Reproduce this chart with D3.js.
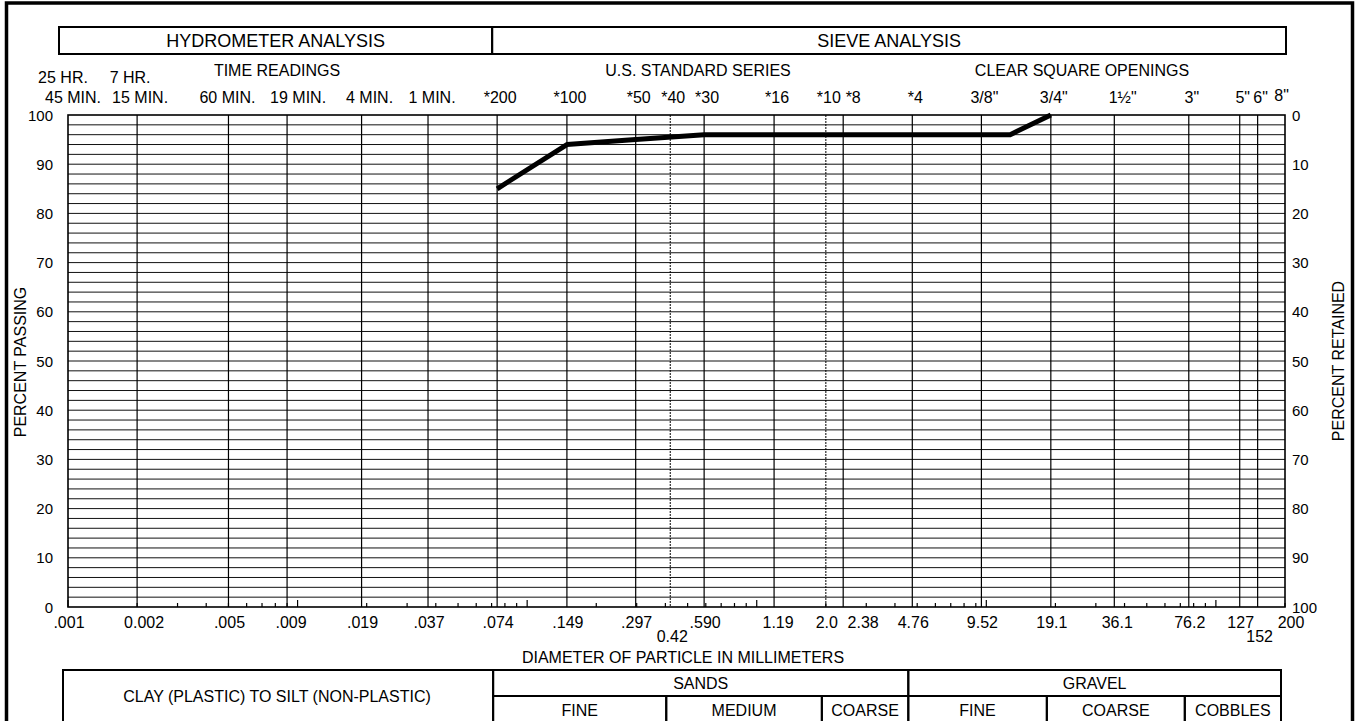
<!DOCTYPE html>
<html>
<head>
<meta charset="utf-8">
<script src="https://cdn.jsdelivr.net/npm/d3@7"></script>
<style>
  body { margin: 0; background: #fff; }
  svg text { font-family: "Liberation Sans", Arial, sans-serif; fill: #000; }
</style>
</head>
<body>
<svg id="d3" width="1359" height="721"></svg>
<script>
// gradation curve (diameter mm, percent passing)
var sampleSize = [0.074, 0.149, 0.297, 0.59, 2.0, 4.76, 9.52, 12.7, 19.1];
var samplePass = [85, 94, 95, 96, 96, 96, 96, 96, 100];

// vertical rulings and the numbers printed under them
var mmSize = [0.002, 0.005, 0.009, 0.019, 0.037, 0.074, 0.149, 0.297, 0.59, 1.19, 2.38, 4.76, 9.52, 19.1, 36.1, 76.2, 127, 152];
var dottedSize = [0.42, 2.0];
var mmTickSize = [0.001, 0.002, 0.005, 0.009, 0.019, 0.037, 0.074, 0.149, 0.297, 0.59, 1.19, 2.0, 2.38, 4.76, 9.52, 19.1, 36.1, 76.2, 127, 200];
var mmTickLabel = [".001", "0.002", ".005", ".009", ".019", ".037", ".074", ".149", ".297", ".590", "1.19", "2.0", "2.38", "4.76", "9.52", "19.1", "36.1", "76.2", "127", "200"];
var mmLowSize = [0.42, 152];
var mmLowLabel = ["0.42", "152"];

// sieve numbers along the top
var sieveSize = [0.074, 0.149, 0.297, 0.42, 0.59, 1.19, 2.0, 2.38, 4.76, 9.52, 19.1, 38.1, 76.2, 127, 152, 203.2];
var sieveLabel = ["*200", "*100", "*50", "*40", "*30", "*16", "*10", "*8", "*4", "3/8\"", "3/4\"", "1\u00bd\"", "3\"", "5\"", "6\"", "8\""];

// hydrometer time readings
var timeSize = [0.001, 0.002, 0.005, 0.009, 0.019, 0.037];
var timeTop = ["25 HR.", "7 HR.", "", "", "", ""];
var timeLabel = ["45 MIN.", "15 MIN.", "60 MIN.", "19 MIN.", "4 MIN.", "1 MIN."];

var yTicks = [0, 10, 20, 30, 40, 50, 60, 70, 80, 90, 100];

// soil classes under the chart
var soilGroup = ["SANDS", "GRAVEL"];
var soilGroupFrom = [0.074, 4.76];
var soilGroupTo = [4.76, 200];
var soilPart = ["FINE", "MEDIUM", "COARSE", "FINE", "COARSE", "COBBLES"];
var soilPartFrom = [0.074, 0.42, 2.0, 4.76, 19.1, 76.2];
var soilPartTo = [0.42, 2.0, 4.76, 19.1, 76.2, 200];

var svg = d3.select('#d3');
var x = d3.scaleLog().domain([0.001, 200]).range([68, 1285]);
var y = d3.scaleLinear().domain([0, 100]).range([607, 115]);

function label(g, tx, ty, s, size, anchor){
	return g.append('text')
		.attr('x', tx).attr('y', ty)
		.attr('text-anchor', anchor || 'middle')
		.attr('dominant-baseline', 'central')
		.style('font-size', size + 'px')
		.text(s);
}

function box(x1, y1, x2, y2, w){
	svg.append('rect')
		.attr('x', x1).attr('y', y1)
		.attr('width', x2 - x1).attr('height', y2 - y1)
		.attr('fill', 'none').attr('stroke', '#000').attr('stroke-width', w);
}

//outer frame
box(6.5, 3, 1352.5, 800, 3.5);

//header boxes
box(x(0.001) - 9, 27, x(0.074) - 5, 54, 2);
box(x(0.074) - 5, 27, x(200) + 1, 54, 2);
label(svg, (x(0.001) - 9 + x(0.074) - 5) / 2, 41, 'HYDROMETER ANALYSIS', 18);
label(svg, (x(0.074) - 5 + x(200) + 1) / 2, 41, 'SIEVE ANALYSIS', 18);
label(svg, 277, 70, 'TIME READINGS', 16);
label(svg, 698, 70, 'U.S. STANDARD SERIES', 16);
label(svg, 1082, 70, 'CLEAR SQUARE OPENINGS', 16);

//time readings
var topNudge = [-5, -7, 0, 0, 0, 0];
var timeNudge = [5, 3, -1, 11, 8, 4];
svg.selectAll('text.ttop').data(timeTop).enter().append('text')
	.attr('class', 'ttop')
	.attr('x', function(d, i){ return x(timeSize[i]) + topNudge[i]; })
	.attr('y', 77)
	.attr('text-anchor', 'middle').attr('dominant-baseline', 'central')
	.style('font-size', '16px')
	.text(function(d){ return d; });
svg.selectAll('text.tlab').data(timeLabel).enter().append('text')
	.attr('class', 'tlab')
	.attr('x', function(d, i){ return x(timeSize[i]) + timeNudge[i]; })
	.attr('y', 97)
	.attr('text-anchor', 'middle').attr('dominant-baseline', 'central')
	.style('font-size', '16px')
	.text(function(d){ return d; });

//sieve numbers
var sieveNudge = {'*8': 7, '8"': -8};
svg.selectAll('text.sieve').data(sieveLabel).enter().append('text')
	.attr('class', 'sieve')
	.attr('x', function(d, i){ return x(sieveSize[i]) + 3 + (sieveNudge[d] || 0); })
	.attr('y', function(d){ return d == '8"' ? 95 : 97; })
	.attr('text-anchor', 'middle').attr('dominant-baseline', 'central')
	.style('font-size', '16px')
	.text(function(d){ return d; });

//horizontal rulings every 2 percent
var hLines = d3.range(2, 100, 2);
svg.append('g').selectAll('line').data(hLines).enter().append('line')
	.attr('x1', x.range()[0]).attr('x2', x.range()[1])
	.attr('y1', function(d){ return y(d); })
	.attr('y2', function(d){ return y(d); })
	.attr('stroke', '#111').attr('stroke-width', 1);

//vertical rulings
svg.append('g').selectAll('line').data(mmSize).enter().append('line')
	.attr('x1', function(d){ return x(d); })
	.attr('x2', function(d){ return x(d); })
	.attr('y1', y(100)).attr('y2', y(0))
	.attr('stroke', '#000').attr('stroke-width', 1.2);
svg.append('g').selectAll('line').data(dottedSize).enter().append('line')
	.attr('x1', function(d){ return x(d); })
	.attr('x2', function(d){ return x(d); })
	.attr('y1', y(100)).attr('y2', y(0))
	.attr('stroke', '#000').attr('stroke-width', 1)
	.attr('stroke-dasharray', '2,1');

//minor log ticks on the base line
var minor = x.ticks();
svg.append('g').selectAll('line').data(minor).enter().append('line')
	.attr('x1', function(d){ return x(d); })
	.attr('x2', function(d){ return x(d); })
	.attr('y1', y(0))
	.attr('y2', function(d){
		var m = d / Math.pow(10, Math.floor(Math.log10(d) + 1e-9));
		return Math.abs(m - 1) < 1e-6 ? y(0) - 7 : y(0) - 4;
	})
	.attr('stroke', '#000').attr('stroke-width', 1.2);

//plot frame
box(x.range()[0], y(100), x.range()[1], y(0), 1.6);

//left and right axis numbers
svg.selectAll('text.yl').data(yTicks).enter().append('text')
	.attr('class', 'yl')
	.attr('x', 53).attr('y', function(d){ return y(d); })
	.attr('text-anchor', 'end').attr('dominant-baseline', 'central')
	.style('font-size', '15px')
	.text(function(d){ return d; });
svg.selectAll('text.yr').data(yTicks).enter().append('text')
	.attr('class', 'yr')
	.attr('x', 1292).attr('y', function(d){ return y(d); })
	.attr('text-anchor', 'start').attr('dominant-baseline', 'central')
	.style('font-size', '15px')
	.text(function(d){ return 100 - d; });

label(svg, 0, 0, 'PERCENT PASSING', 16).attr('transform', 'translate(20,362) rotate(-90)');
label(svg, 0, 0, 'PERCENT RETAINED', 16).attr('transform', 'translate(1338,361) rotate(-90)');

//diameter numbers
var mmNudge = {'0.002': 6, '2.38': 19, '200': 5, '.009': 3, '1.19': 3, '36.1': 2};
svg.selectAll('text.mm').data(mmTickLabel).enter().append('text')
	.attr('class', 'mm')
	.attr('x', function(d, i){ return x(mmTickSize[i]) + 1 + (mmNudge[d] || 0); })
	.attr('y', 622)
	.attr('text-anchor', 'middle').attr('dominant-baseline', 'central')
	.style('font-size', '16px')
	.text(function(d){ return d; });
svg.selectAll('text.mmlow').data(mmLowLabel).enter().append('text')
	.attr('class', 'mmlow')
	.attr('x', function(d, i){ return x(mmLowSize[i]) + 2; })
	.attr('y', 636)
	.attr('text-anchor', 'middle').attr('dominant-baseline', 'central')
	.style('font-size', '16px')
	.text(function(d){ return d; });
label(svg, 683, 657, 'DIAMETER OF PARTICLE IN MILLIMETERS', 16);

//soil classification table
var shift = -4;
box(x(0.001) + shift - 1, 670, x(0.074) + shift, 740, 2);
label(svg, 277, 696, 'CLAY (PLASTIC) TO SILT (NON-PLASTIC)', 16);
soilGroup.forEach(function(s, i){
	var a = x(soilGroupFrom[i]) + shift, b = x(soilGroupTo[i]) + shift;
	box(a, 670, b, 696, 2);
	label(svg, (a + b) / 2, 683, s, 16);
});
soilPart.forEach(function(s, i){
	var a = x(soilPartFrom[i]) + shift, b = x(soilPartTo[i]) + shift;
	box(a, 696, b, 740, 2);
	label(svg, (a + b) / 2, 710, s, 16);
});

//gradation curve
var curve = d3.line()
	.x(function(d){ return x(d); })
	.y(function(d, i){ return y(samplePass[i]); });
svg.append('path')
	.datum(sampleSize)
	.attr('d', curve)
	.attr('fill', 'none')
	.attr('stroke', '#000')
	.attr('stroke-width', 5)
	.attr('stroke-linejoin', 'round');
</script>
</body>
</html>
